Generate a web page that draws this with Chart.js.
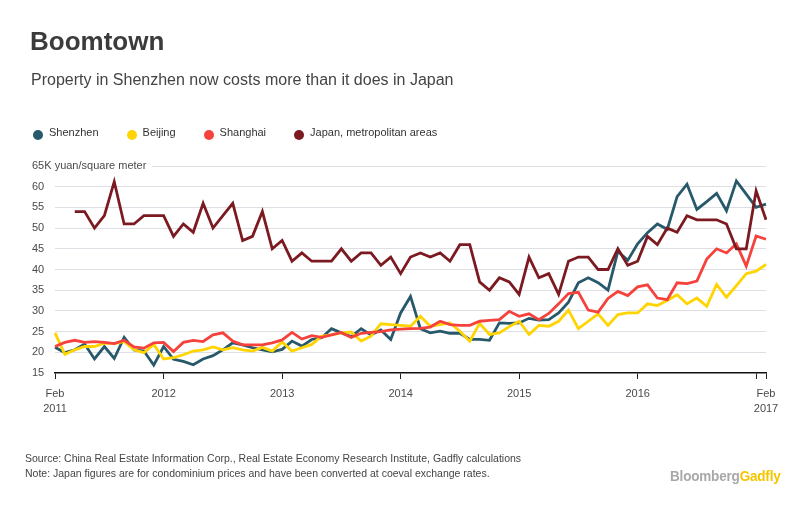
<!DOCTYPE html>
<html>
<head>
<meta charset="utf-8">
<script src="https://cdn.jsdelivr.net/npm/chart.js@4.4.0/dist/chart.umd.min.js"></script>
<style>
  body { margin: 0; background: #fff; font-family: "Liberation Sans", Arial, sans-serif; }
  #wrap { position: relative; width: 812px; height: 512px; overflow: hidden; }
  #chartBox { position: absolute; left: 0; top: 0; width: 812px; height: 512px; }
  .txt { position: absolute; white-space: nowrap; line-height: 1; }
  #title { left: 30px; top: 28px; font-size: 26px; font-weight: bold; color: #3b3b3b; }
  #subtitle { left: 31px; top: 72px; font-size: 16px; color: #444; }
  #legend { position: absolute; left: 33px; top: 127.4px; display: flex; font-size: 11px; color: #333; line-height: 1; }
  #legend .item { display: flex; margin-right: 28px; position: relative; }
  #legend .dot { width: 10px; height: 10px; border-radius: 50%; margin-right: 6px; margin-top: 2.6px; }
  #source { left: 25px; top: 452.6px; font-size: 10.5px; color: #444; }
  #note { left: 25px; top: 467.6px; font-size: 10.5px; color: #444; }
  #logo { left: 670px; top: 467.7px; font-size: 15px; font-weight: bold; transform: scaleX(0.9); transform-origin: left top; letter-spacing: -0.2px; }
  #logo .b { color: #a8a8a8; }
  #logo .g { color: #f5c400; }
</style>
</head>
<body>
<div id="wrap">
  <div id="chartBox"><canvas id="boomChart"></canvas></div>
  <div class="txt" id="title">Boomtown</div>
  <div class="txt" id="subtitle">Property in Shenzhen now costs more than it does in Japan</div>
  <div id="legend"></div>
  <div class="txt" id="source">Source: China Real Estate Information Corp., Real Estate Economy Research Institute, Gadfly calculations</div>
  <div class="txt" id="note">Note: Japan figures are for condominium prices and have been converted at coeval exchange rates.</div>
  <div class="txt" id="logo"><span class="b">Bloomberg</span><span class="g">Gadfly</span></div>
</div>
<script>
// monthly, Feb 2011 .. Feb 2017
const months = [];
for (let y = 2011; y <= 2017; y++) {
  for (let m = 1; m <= 12; m++) {
    if ((y === 2011 && m < 2) || (y === 2017 && m > 2)) continue;
    months.push(y + "-" + String(m).padStart(2, "0"));
  }
}

const shenzhen = [21.2, 19.9, 20.6, 22.0, 18.4, 21.4, 18.5, 23.6, 20.6, 20.3, 16.9, 21.4,
  18.3, 17.8, 17.0, 18.4, 19.2, 20.6, 22.3, 21.8, 21.1, 20.6, 20.1, 20.7,
  22.7, 21.5, 23.1, 23.5, 25.7, 24.7, 23.8, 25.7, 24.2, 25.4, 23.1, 29.5,
  33.5, 25.7, 24.7, 25.1, 24.6, 24.6, 23.1, 23.1, 22.9, 27.1, 27.0, 27.1,
  28.2, 27.8, 27.9, 29.5, 32.1, 36.8, 38.0, 36.8, 35.0, 44.4, 42.2, 46.2,
  48.9, 51.0, 49.7, 57.6, 60.6, 54.5, 56.4, 58.4, 54.2, 61.4, 58.2, 55.0, 55.8];

const beijing = [24.7, 19.5, 20.6, 21.4, 21.4, 22.2, 22.1, 22.6, 20.6, 19.9, 21.9, 18.4,
  18.7, 19.4, 20.3, 20.6, 21.3, 20.6, 21.1, 20.6, 20.3, 21.2, 20.3, 22.5,
  20.3, 21.1, 21.9, 23.9, 24.2, 24.7, 24.9, 22.7, 23.9, 26.9, 26.7, 26.5,
  26.3, 28.7, 26.3, 26.7, 27.1, 25.1, 22.7, 27.0, 24.3, 24.7, 26.2, 27.5,
  24.3, 26.5, 26.3, 27.5, 30.2, 25.7, 27.5, 29.3, 26.5, 29.1, 29.5, 29.5,
  31.7, 31.3, 32.5, 33.9, 31.7, 33.1, 31.1, 36.4, 33.3, 36.1, 39.0, 39.6, 41.2];

const shanghai = [21.4, 22.4, 22.9, 22.4, 22.6, 22.4, 22.1, 22.9, 21.3, 21.0, 22.3, 22.4,
  20.2, 22.4, 22.9, 22.6, 24.2, 24.7, 22.7, 21.8, 21.8, 21.8, 22.3, 23.0,
  24.8, 23.2, 24.0, 23.6, 24.2, 24.8, 23.6, 24.6, 24.8, 25.0, 25.4, 25.6,
  25.7, 25.8, 26.1, 27.5, 26.7, 26.5, 26.5, 27.5, 27.7, 27.9, 29.9, 28.7,
  29.3, 27.9, 29.4, 31.7, 34.2, 34.5, 30.2, 29.7, 33.0, 34.7, 33.7, 35.8,
  36.3, 33.1, 32.7, 36.8, 36.6, 37.2, 42.5, 45.0, 44.0, 46.2, 40.8, 48.1, 47.3];

const japan = [null, null, 54, 54, 50, 53, 61.2, 51, 51, 53, 53, 53,
  48, 51, 49, 56, 50, 53, 56, 47, 48, 54, 45, 47,
  42, 44, 42, 42, 42, 45, 42, 44, 44, 41, 43, 39,
  43, 44, 43, 44, 42, 46, 46, 37, 35, 38, 37, 34,
  43, 38, 39, 34, 42, 43, 43, 40, 40, 45, 41, 42,
  48, 46, 50, 49, 53, 52, 52, 52, 51, 45, 45, 59, 52];

const seriesNames = ["Shenzhen", "Beijing", "Shanghai", "Japan, metropolitan areas"];
const seriesColors = ["#27596b", "#ffd400", "#f6423c", "#7b1a21"];

const xTickIndex = [0, 11, 23, 35, 47, 59, 71, 72];
const xTickText = [["Feb", "2011"], "2012", "2013", "2014", "2015", "2016", "", ["Feb", "2017"]];

const yTicks = [15, 20, 25, 30, 35, 40, 45, 50, 55, 60, 65];
const yTopLabel = "65K yuan/square meter";

const gridColor = "#dedfe4";
const labelColor = "#4a4a4a";
const fontFamily = "'Liberation Sans', Arial, sans-serif";
const yAxisWidth = 23;

// legend
const legend = document.getElementById("legend");
seriesNames.forEach((name, i) => {
  const item = document.createElement("div");
  item.className = "item";
  item.innerHTML = '<span class="dot" style="background:' + seriesColors[i] + '"></span><span>' + name + '</span>';
  legend.appendChild(item);
});

// the 65 line starts after its long label
const topLinePlugin = {
  id: "topLine",
  beforeDatasetsDraw(chart) {
    const y = chart.scales.y;
    const ctx = chart.ctx;
    const py = Math.round(y.getPixelForValue(yTicks[yTicks.length - 1])) + 0.5;
    ctx.save();
    ctx.font = "11px " + fontFamily;
    const w = ctx.measureText(yTopLabel).width;
    ctx.strokeStyle = gridColor;
    ctx.lineWidth = 1;
    ctx.beginPath();
    ctx.moveTo(y.left + w + 6, py);
    ctx.lineTo(chart.chartArea.right, py);
    ctx.stroke();
    ctx.restore();
  }
};

const allSeries = [shenzhen, beijing, shanghai, japan];
const drawOrder = [3, 2, 1, 0];

new Chart(document.getElementById("boomChart").getContext("2d"), {
  type: "line",
  data: {
    labels: months,
    datasets: allSeries.map((d, i) => ({
      label: seriesNames[i],
      data: d,
      borderColor: seriesColors[i],
      backgroundColor: seriesColors[i],
      borderWidth: 2.8,
      pointRadius: 0,
      tension: 0,
      borderJoinStyle: "miter",
      order: drawOrder[i]
    }))
  },
  options: {
    responsive: true,
    maintainAspectRatio: false,
    animation: false,
    layout: { padding: { top: 166, left: 32, right: 46, bottom: 90 } },
    plugins: {
      legend: { display: false },
      tooltip: { enabled: false }
    },
    scales: {
      x: {
        type: "category",
        offset: false,
        afterBuildTicks: s => { s.ticks = s.ticks.filter(t => xTickIndex.includes(t.value)); },
        afterFit: s => { s.height = 49; },
        grid: { drawOnChartArea: false, drawTicks: true, tickLength: 6, color: "#222", lineWidth: 1 },
        border: { color: "#111", width: 1.5 },
        ticks: {
          autoSkip: false,
          maxRotation: 0,
          padding: 7,
          color: labelColor,
          font: { family: fontFamily, size: 11, lineHeight: 1.4 },
          callback: v => xTickText[xTickIndex.indexOf(v)]
        }
      },
      y: {
        min: 15,
        max: 65,
        afterBuildTicks: s => { s.ticks = yTicks.map(v => ({ value: v })); },
        afterFit: s => { s.width = yAxisWidth; },
        grid: {
          drawTicks: false,
          lineWidth: 1,
          color: c => (c.tick && (c.tick.value === 65 || c.tick.value === 15)) ? "rgba(0,0,0,0)" : gridColor
        },
        border: { display: false },
        ticks: {
          mirror: true,
          padding: -yAxisWidth,
          crossAlign: "near",
          color: labelColor,
          font: { family: fontFamily, size: 11 },
          callback: v => v === 65 ? yTopLabel : v
        }
      }
    }
  },
  plugins: [topLinePlugin]
});
</script>
</body>
</html>
